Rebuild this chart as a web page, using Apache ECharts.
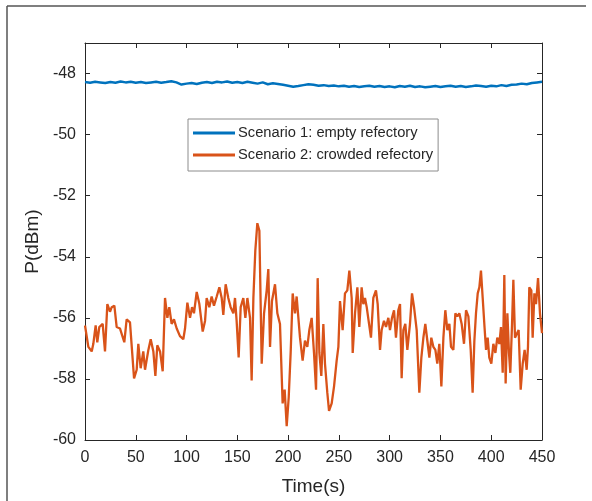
<!DOCTYPE html>
<html>
<head>
<meta charset="utf-8">
<script src="https://cdn.jsdelivr.net/npm/echarts@6/dist/echarts.min.js"></script>
<style>
html,body{margin:0;padding:0;background:#fff;}
#chart{width:592px;height:501px;}
</style>
</head>
<body>
<div id="chart"></div>
<script>
// ---- Data ----
var seriesNames = ['Scenario 1: empty refectory', 'Scenario 2: crowded refectory'];
var xTicks = [0, 50, 100, 150, 200, 250, 300, 350, 400, 450];
var yTicks = [-60, -58, -56, -54, -52, -50, -48];

var blueTime = [0,5,10,15,20,25,30,35,40,45,
  50,55,60,65,70,75,80,85,90,95,
  100,105,110,115,120,125,130,135,140,145,
  150,155,160,165,170,175,180,185,190,195,
  200,205,210,215,220,225,230,235,240,245,
  250,255,260,265,270,275,280,285,290,295,
  300,305,310,315,320,325,330,335,340,345,
  350,355,360,365,370,375,380,385,390,395,
  400,405,410,415,420,425,430,435,440,445,
  450];
var blueValue = [-48.28,-48.30,-48.27,-48.29,-48.31,-48.28,-48.30,-48.26,-48.29,-48.27,
  -48.30,-48.28,-48.31,-48.29,-48.27,-48.30,-48.28,-48.25,-48.29,-48.36,
  -48.33,-48.31,-48.34,-48.30,-48.28,-48.31,-48.27,-48.29,-48.26,-48.30,
  -48.28,-48.31,-48.27,-48.30,-48.33,-48.29,-48.35,-48.32,-48.34,-48.37,
  -48.40,-48.43,-48.41,-48.38,-48.35,-48.37,-48.40,-48.38,-48.41,-48.39,
  -48.42,-48.40,-48.43,-48.41,-48.44,-48.42,-48.40,-48.43,-48.41,-48.44,
  -48.42,-48.45,-48.41,-48.43,-48.40,-48.44,-48.42,-48.45,-48.43,-48.41,
  -48.44,-48.42,-48.40,-48.43,-48.41,-48.44,-48.42,-48.39,-48.41,-48.43,
  -48.40,-48.42,-48.38,-48.41,-48.37,-48.36,-48.33,-48.35,-48.31,-48.29,
  -48.27];

var orangeTime = [0,3.3,6.6,8.2,10.5,12.1,14.1,17.4,19.7,22.0,
  24.6,26.3,28.9,31.2,34.5,38.7,41.0,44.3,48.3,50.9,
  52.5,54.8,57.4,59.1,62.4,64.7,67.3,69.3,71.2,73.9,
  76.5,78.8,81.1,83.0,85.3,87.6,90.3,93.5,96.8,98.5,
  100.8,103.4,105.4,107.3,110.0,112.6,115.9,118.2,119.8,122.4,
  124.7,127.0,129.7,132.3,134.6,136.2,138.5,141.1,143.4,146.1,
  147.7,149.3,151.3,153.3,155.9,157.9,159.9,162.5,164.1,165.8,
  167.7,169.7,171.7,174.0,176.3,178.9,180.5,182.2,184.1,187.1,
  189.4,192.0,194.6,196.6,198.6,200.6,202.5,204.5,206.8,208.4,
  211.7,214.3,216.6,218.9,220.9,223.2,225.5,227.5,229.1,230.8,
  232.7,234.7,236.3,238.6,240.3,242.9,245.2,247.8,249.5,251.1,
  253.7,256.0,258.3,260.3,262.6,263.6,265.9,268.2,270.1,272.4,
  274.1,275.7,277.4,279.7,281.6,283.9,286.5,288.2,290.5,292.1,
  294.4,296.4,298.7,300.3,302.3,304.3,306.2,308.5,310.2,311.8,
  313.5,315.4,317.4,320.0,322.0,324.0,326.6,329.2,331.2,333.2,
  335.1,337.1,339.1,341.0,343.0,345.0,346.9,348.9,350.9,352.9,
  354.8,356.8,358.8,360.4,362.7,364.7,366.6,368.6,370.9,373.2,
  375.2,377.5,379.8,381.7,383.4,385.0,386.7,388.3,389.9,391.6,
  393.2,394.9,396.5,398.1,400.1,402.1,404.1,406.0,408.0,409.6,
  411.3,412.9,414.2,415.9,417.5,418.8,420.5,421.8,423.4,425.1,
  427.0,429.0,431.0,432.9,434.9,436.2,437.5,439.5,440.8,442.5,
  444.1,446.1,448.0,450];
var orangeValue = [-56.25,-56.95,-57.1,-56.85,-56.25,-56.8,-56.3,-56.2,-57.1,-55.55,
  -55.8,-55.65,-55.6,-56.3,-56.35,-56.8,-56.05,-56.15,-57.98,-57.7,
  -56.85,-57.65,-57.1,-57.7,-57.05,-56.7,-57.1,-57.9,-56.9,-57.1,
  -57.75,-55.35,-56.0,-55.65,-56.2,-56.05,-56.35,-56.6,-56.7,-56.35,
  -55.5,-56.0,-55.65,-55.85,-55.15,-55.55,-56.45,-56.1,-55.35,-55.65,
  -55.3,-55.6,-55.3,-55.0,-55.35,-55.9,-54.9,-55.35,-55.65,-55.85,
  -55.35,-56.1,-57.3,-55.65,-55.35,-56.0,-55.35,-56.0,-58.05,-55.35,
  -53.8,-52.9,-53.15,-57.5,-55.85,-55.1,-54.4,-56.95,-55.45,-54.9,
  -55.85,-56.2,-58.8,-58.35,-59.55,-58.6,-57.15,-55.2,-55.85,-55.3,
  -56.65,-57.4,-56.75,-56.95,-56.4,-56.0,-57.15,-58.35,-54.7,-57.15,
  -57.9,-56.2,-57.5,-58.45,-59.05,-58.8,-58.25,-57.4,-56.95,-55.45,
  -56.4,-55.2,-55.1,-54.45,-55.35,-57.15,-55.85,-55.0,-56.3,-55.0,
  -55.55,-55.35,-55.65,-56.2,-56.65,-55.35,-55.1,-55.55,-57.05,-56.4,
  -56.1,-56.3,-56.0,-56.4,-56.0,-55.75,-56.65,-55.75,-55.55,-57.98,
  -56.4,-56.2,-57.05,-56.2,-55.2,-55.65,-56.4,-58.45,-57.3,-56.65,
  -56.2,-56.75,-57.3,-56.65,-56.95,-57.05,-57.5,-56.85,-58.25,-56.65,
  -55.75,-56.4,-56.2,-56.95,-57.05,-55.85,-55.95,-55.85,-56.2,-56.85,
  -55.75,-55.95,-57.05,-58.45,-56.75,-55.85,-55.2,-55.0,-54.45,-55.35,
  -56.2,-57.05,-56.65,-57.3,-57.5,-56.85,-57.15,-56.65,-56.85,-56.3,
  -57.8,-54.6,-58.15,-55.85,-57.15,-57.8,-56.2,-54.75,-56.65,-56.65,
  -56.4,-58.35,-57.5,-57.05,-57.7,-56.95,-55.0,-55.1,-56.65,-55.2,
  -55.55,-54.7,-55.85,-56.5];

// ---- Chart ----
function pairs(t, v) { return t.map(function (x, i) { return [x, v[i]]; }); }

var FONT = '"Liberation Sans", Arial, sans-serif';
var AX = '#262626';
var chart = echarts.init(document.getElementById('chart'), null, {renderer: 'canvas'});

var xMin = xTicks[0], xMax = xTicks[xTicks.length - 1];
var xInt = xTicks[1] - xTicks[0];
var yMin = yTicks[0], yInt = yTicks[1] - yTicks[0];
var yMax = -47;

function axisBase(showLabel) {
  return {
    axisLine: {show: true, onZero: false, lineStyle: {color: AX, width: 1}},
    axisTick: {show: true, inside: true, length: 5, lineStyle: {color: AX}},
    splitLine: {show: false},
    axisLabel: {show: showLabel, color: AX, fontFamily: FONT, fontSize: 16}
  };
}

var xBottom = Object.assign(axisBase(true), {
  type: 'value', position: 'bottom', min: xMin, max: xMax, interval: xInt,
  name: 'Time(s)', nameLocation: 'middle', nameGap: 37,
  nameTextStyle: {color: AX, fontFamily: FONT, fontSize: 19}
});
xBottom.axisLabel.margin = 10;
var xTop = Object.assign(axisBase(false), {
  type: 'value', position: 'top', min: xMin, max: xMax, interval: xInt
});
var yLeft = Object.assign(axisBase(true), {
  type: 'value', position: 'left', min: yMin, max: yMax, interval: yInt,
  name: 'P(dBm)', nameLocation: 'middle', nameGap: 38, nameRotate: 90,
  nameTextStyle: {color: AX, fontFamily: FONT, fontSize: 19}
});
yLeft.axisLabel.margin = 9;
yLeft.axisLabel.showMaxLabel = false;
yLeft.axisLabel.formatter = function (v) { return v === yMax ? '' : String(v); };
var yRight = Object.assign(axisBase(false), {
  type: 'value', position: 'right', min: yMin, max: yMax, interval: yInt
});

var option = {
  backgroundColor: '#fff',
  animation: false,
  grid: {left: 85, right: 50, top: 43, bottom: 58, containLabel: false},
  xAxis: [xBottom, xTop],
  yAxis: [yLeft, yRight],
  legend: {
    show: true,
    data: seriesNames,
    orient: 'vertical',
    left: 188, top: 119,
    padding: [6, 5, 8, 5],
    itemGap: 6,
    itemWidth: 42, itemHeight: 3,
    icon: 'rect',
    backgroundColor: '#fff',
    borderColor: '#8c8c8c', borderWidth: 1,
    textStyle: {color: AX, fontFamily: FONT, fontSize: 14.7, lineHeight: 16, padding: [0, 0, 0, -2]}
  },
  graphic: [
    {type: 'line', shape: {x1: 7, y1: 6, x2: 586, y2: 6}, style: {stroke: '#555', lineWidth: 1.5}, silent: true},
    {type: 'line', shape: {x1: 7, y1: 6, x2: 7, y2: 501}, style: {stroke: '#555', lineWidth: 1.5}, silent: true}
  ],
  series: [
    {
      name: seriesNames[0], type: 'line', xAxisIndex: 0, yAxisIndex: 0,
      data: pairs(blueTime, blueValue), showSymbol: false, symbol: 'none',
      lineStyle: {color: '#0072BD', width: 2.5}, itemStyle: {color: '#0072BD'}
    },
    {
      name: seriesNames[1], type: 'line', xAxisIndex: 0, yAxisIndex: 0,
      data: pairs(orangeTime, orangeValue), showSymbol: false, symbol: 'none',
      lineStyle: {color: '#D95319', width: 2.3}, itemStyle: {color: '#D95319'}
    }
  ]
};
chart.setOption(option);
</script>
</body>
</html>
